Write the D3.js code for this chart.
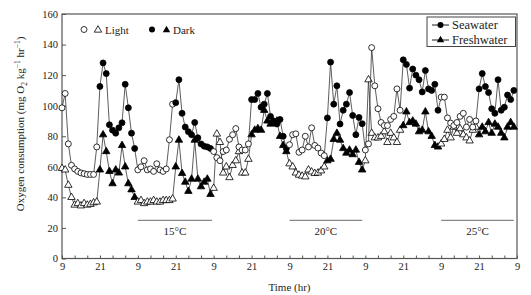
<!doctype html>
<html lang="en">
<head>
<meta charset="utf-8">
<title>Oxygen consumption</title>
<script src="https://d3js.org/d3.v7.min.js"></script>
<style>
    body { margin: 0; background: #fff; }
    svg { display: block; font-family: "Liberation Serif", "DejaVu Serif", serif; }
</style>
</head>
<body>
<script>
    // hourly readings, starting at 09:00 on day 1 (index = hours since start)
    const seawater = [
        98.6, 108, 75, 61, 58.6, 57, 56, 55.5, 55, 55, 55, 73,
        112.6, 128, 121, 87.5, 84, 82, 85.5, 88.8, 114, 98.6, 82, 72,
        58, 60, 64, 58, 58.6, 57, 62, 58, 57, 58.6, 77.7, 101,
        102, 117, 95, 86, 83, 81, 89, 79, 75, 73.5, 73, 72,
        70, 66, 64, 70, 71, 78, 81, 85, 73, 71, 71, 75,
        104, 104, 108, 99, 101, 108, 93, 90, 88, 91, 80, 72,
        74.5, 81, 81.6, 69.5, 71, 80, 73, 85.5, 74, 72.3, 69, 67.3,
        92, 128.5, 101, 113, 88, 97, 101, 108.6, 93.6, 81, 92.3, 88.2,
        71, 75, 138, 113, 98, 89, 87, 87, 91, 93, 111, 97,
        130, 127, 111.5, 124, 120, 117, 109, 123, 111, 110, 114, 97,
        105.6, 105.6, 92, 88.6, 87, 89, 93, 95, 86, 91, 86, 90,
        111, 121, 112.5, 108.6, 98, 95, 117, 97, 99, 107, 104, 110
    ]
    const freshwater = [
        59, 58, 48, 40, 35, 36, 34.5, 36, 35, 35.5, 36.5, 37,
        58, 81, 70, 57, 49, 58, 56, 74, 60, 49, 45, 40,
        37, 38, 36, 37, 37, 38, 37, 37, 38, 38, 38, 39,
        60, 77.5, 55.7, 50, 44, 52, 77.5, 52, 47, 50, 52, 42,
        46, 81.5, 76, 56, 60, 53, 61, 64, 70, 56, 56, 65,
        81, 84, 85, 84, 97, 90, 88, 89, 90, 80, 74, 70,
        62, 60, 56, 54.6, 54, 53.5, 58, 56.7, 55.7, 56, 57.4, 60,
        64, 65, 78, 82, 77.5, 72, 69, 71, 68, 71, 63, 58,
        64, 117, 82, 79, 79, 80, 83, 76, 82, 79, 76, 84,
        87, 96, 89, 90, 88, 83, 84, 96, 83, 80, 74, 73,
        75, 78, 84, 79, 86, 82, 85, 81, 79, 77, 84, 86,
        81, 86, 83, 89, 82, 88, 86, 82, 79, 86, 89, 86
    ]
    const temperatures = ["15°C", "20°C", "25°C"]
    const tempStart = [24, 72, 120]
    const tempEnd = [47.5, 95, 143]
    const xTicks = d3.range(0, 145, 4)
    const yTicks = [0, 20, 40, 60, 80, 100, 120, 140, 160]

    const width = 531, height = 295
    const plotLeft = 62, plotRight = 517, plotTop = 14, plotBottom = 258.5

    const x = d3.scaleLinear().domain([0, 144]).range([plotLeft, plotRight])
    const y = d3.scaleLinear().domain([0, 160]).range([plotBottom, plotTop])

    const svg = d3.select("body").append("svg")
        .attr("width", width)
        .attr("height", height)

    const axisColor = "#555"

    // axes, ticks pointing inwards
    const xAxis = svg.append("g")
        .attr("transform", `translate(0,${plotBottom})`)
        .call(d3.axisBottom(x).tickValues(xTicks).tickSize(-3).tickPadding(4.5)
            .tickFormat(h => h % 12 === 0 ? (h % 24 === 0 ? "9" : "21") : ""))
    const yAxis = svg.append("g")
        .attr("transform", `translate(${plotLeft},0)`)
        .call(d3.axisLeft(y).tickValues(yTicks).tickSize(-4).tickPadding(4))

    for (const g of [xAxis, yAxis]) {
        g.select(".domain").remove()
        g.selectAll("line").attr("stroke", axisColor)
        g.selectAll("text").attr("font-size", 10.5).attr("fill", "#222")
    }
    xAxis.attr("font-family", null)
    yAxis.attr("font-family", null)

    svg.append("rect")
        .attr("x", plotLeft).attr("y", plotTop)
        .attr("width", plotRight - plotLeft).attr("height", plotBottom - plotTop)
        .attr("fill", "none").attr("stroke", axisColor).attr("stroke-width", 1.2)

    svg.append("text")
        .attr("x", (plotLeft + plotRight) / 2).attr("y", 291)
        .attr("text-anchor", "middle").attr("font-size", 11).attr("fill", "#222")
        .text("Time (hr)")

    const ylab = svg.append("text")
        .attr("transform", "translate(24,124) rotate(-90)")
        .attr("text-anchor", "middle").attr("font-size", 11).attr("fill", "#222")
    ylab.append("tspan").text("Oxygen consumption (mg O")
    ylab.append("tspan").attr("font-size", 7.5).attr("dy", 2.5).text("2")
    ylab.append("tspan").attr("dy", -2.5).text(" kg")
    ylab.append("tspan").attr("font-size", 7.5).attr("dy", -4).text("−1")
    ylab.append("tspan").attr("dy", 4).text(" hr")
    ylab.append("tspan").attr("font-size", 7.5).attr("dy", -4).text("−1")
    ylab.append("tspan").attr("dy", 4).text(")")

    // temperature bars
    temperatures.forEach((t, i) => {
        svg.append("line")
            .attr("x1", x(tempStart[i])).attr("x2", x(tempEnd[i]))
            .attr("y1", y(25)).attr("y2", y(25))
            .attr("stroke", "#888").attr("stroke-width", 1.3)
        svg.append("text")
            .attr("x", x((tempStart[i] + tempEnd[i]) / 2)).attr("y", 235)
            .attr("text-anchor", "middle").attr("font-size", 11).attr("fill", "#222")
            .text(t)
    })

    const isDark = h => h % 24 >= 12
    const line = d3.line().x((d, i) => x(i)).y(d => y(d))

    const circle = d3.symbol().type(d3.symbolCircle).size(28)
    const triangle = d3.symbol().type(d3.symbolTriangle).size(24)

    function drawSeries(values, symbol) {
        svg.append("path")
            .datum(values)
            .attr("d", line)
            .attr("fill", "none").attr("stroke", "#333").attr("stroke-width", 0.8)
        svg.append("g").selectAll("path")
            .data(values)
            .join("path")
            .attr("transform", (d, i) => `translate(${x(i)},${y(d)})`)
            .attr("d", symbol)
            .attr("fill", (d, i) => isDark(i) ? "#000" : "#fff")
            .attr("stroke", "#000").attr("stroke-width", 0.8)
    }
    drawSeries(freshwater, triangle)
    drawSeries(seawater, circle)

    // light / dark legend
    const lg = svg.append("g").attr("font-size", 11).attr("fill", "#222")
    lg.append("path").attr("transform", "translate(84,29.5)").attr("d", circle)
        .attr("fill", "#fff").attr("stroke", "#000").attr("stroke-width", 0.8)
    lg.append("path").attr("transform", "translate(98,30)").attr("d", triangle)
        .attr("fill", "#fff").attr("stroke", "#000").attr("stroke-width", 0.8)
    lg.append("text").attr("x", 105).attr("y", 33.5).text("Light")
    lg.append("path").attr("transform", "translate(152,29.5)").attr("d", circle)
        .attr("fill", "#000")
    lg.append("path").attr("transform", "translate(166.5,30)").attr("d", triangle)
        .attr("fill", "#000")
    lg.append("text").attr("x", 173).attr("y", 33.5).text("Dark")

    // medium legend
    const mg = svg.append("g").attr("font-size", 12.5).attr("fill", "#222")
    mg.append("rect").attr("x", 427).attr("y", 17).attr("width", 88.5).attr("height", 29.5)
        .attr("fill", "#fff").attr("stroke", "#444").attr("stroke-width", 1)
    const items = [["Seawater", circle, 25], ["Freshwater", triangle, 40]]
    for (const [name, sym, cy] of items) {
        mg.append("line").attr("x1", 432).attr("x2", 449).attr("y1", cy).attr("y2", cy)
            .attr("stroke", "#000").attr("stroke-width", 0.9)
        mg.append("path").attr("transform", `translate(440.5,${cy})`).attr("d", sym).attr("fill", "#000")
        mg.append("text").attr("x", 452).attr("y", cy + 4).text(name)
    }
</script>
</body>
</html>
